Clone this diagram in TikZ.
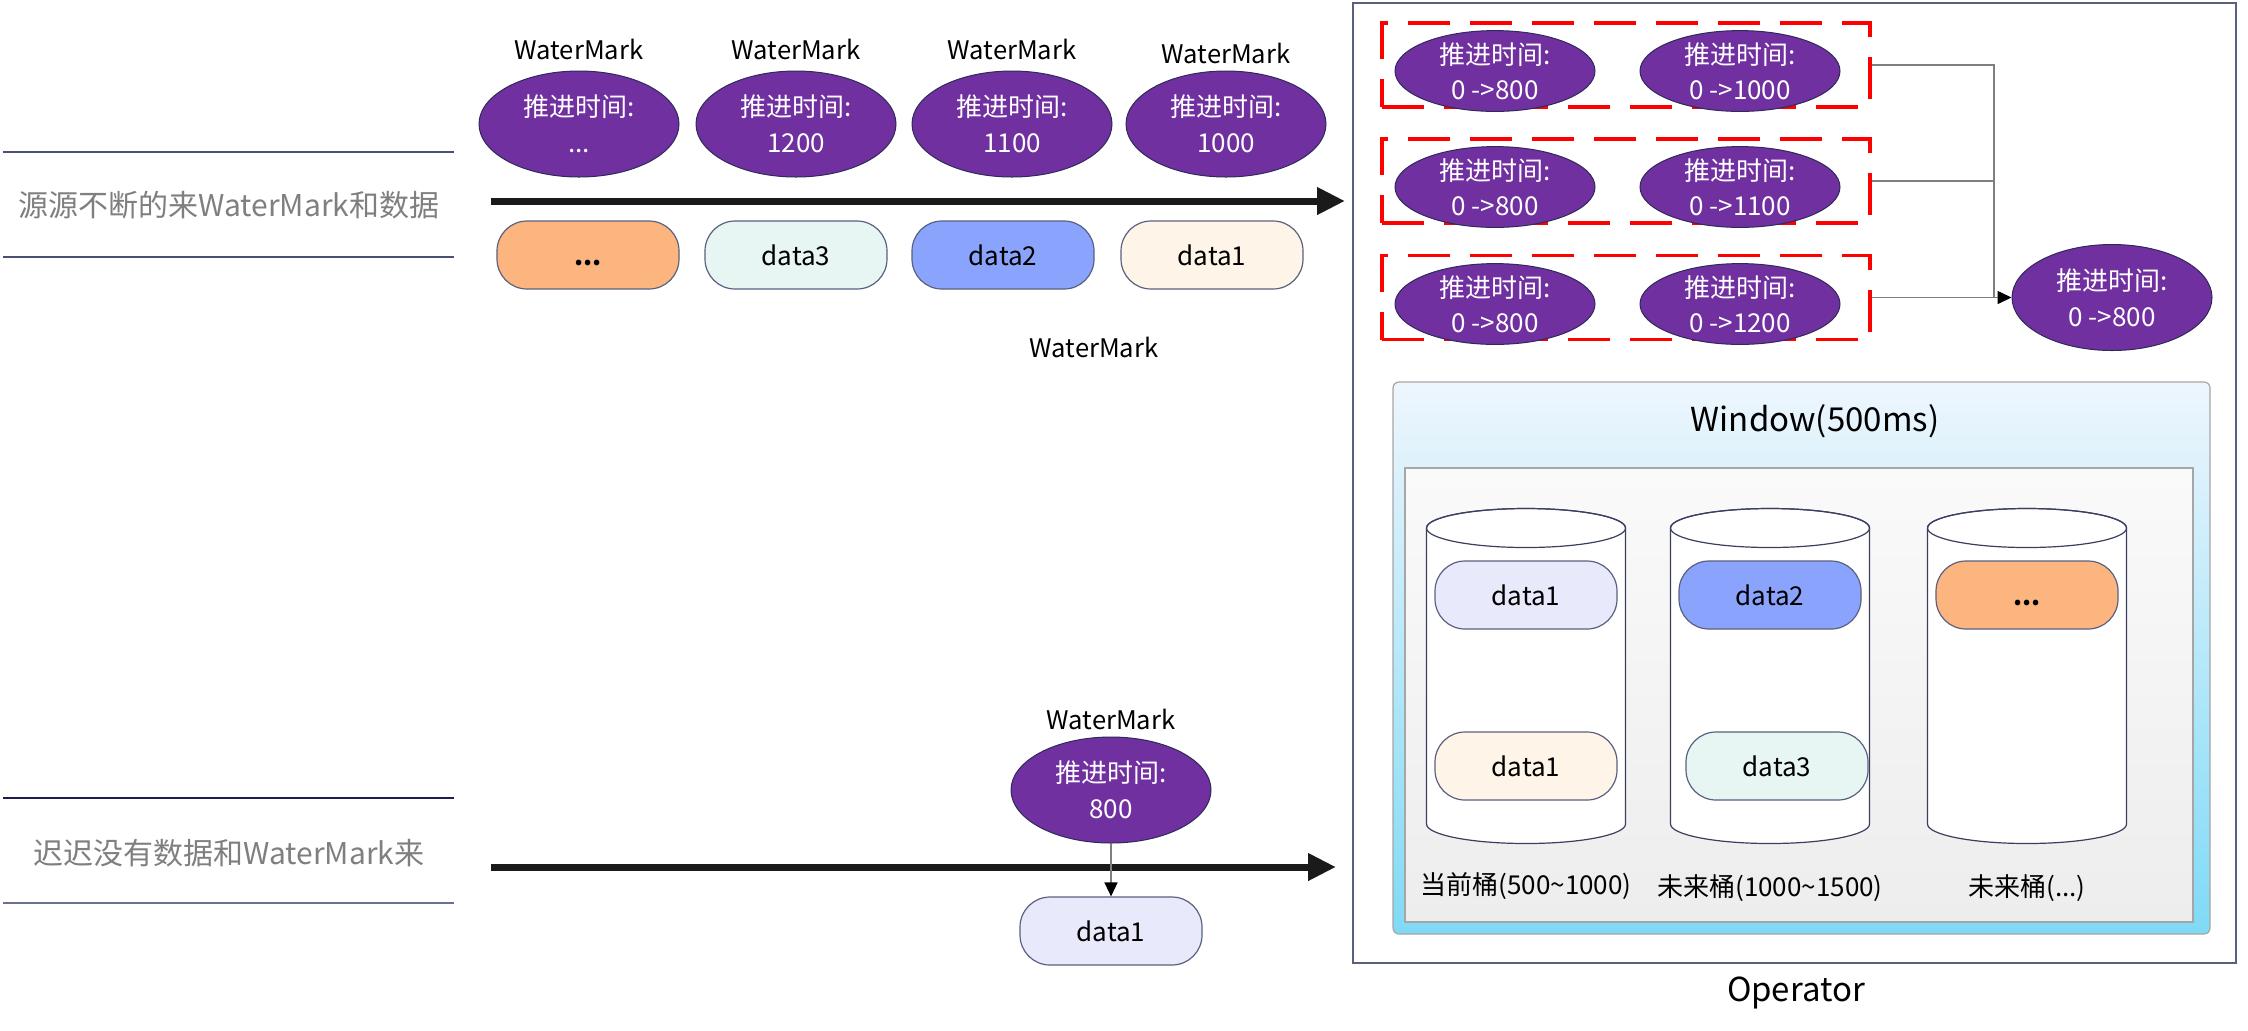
\documentclass[tikz,border=0pt]{standalone}
\usepackage{fontspec}
\setmainfont{Noto Sans CJK SC}
\usetikzlibrary{shapes.geometric,arrows.meta}
\definecolor{wmpurple}{HTML}{7030A0}
\definecolor{wmedge}{HTML}{2E2A5A}
\definecolor{pilledge}{HTML}{5A6080}
\definecolor{corange}{HTML}{FDB57F}
\definecolor{cmint}{HTML}{E7F6F2}
\definecolor{cblue}{HTML}{8AA4FD}
\definecolor{ccream}{HTML}{FEF4E7}
\definecolor{clav}{HTML}{E8EAFC}
\definecolor{txtgray}{HTML}{7F7F7F}
\definecolor{rulecol}{HTML}{4B5070}
\definecolor{rulenavy}{HTML}{1C1C50}
\definecolor{rulelight}{HTML}{6B7090}
\definecolor{arrowcol}{HTML}{1A1A1A}
\definecolor{conncol}{HTML}{7F7F7F}
\definecolor{opedge}{HTML}{5A5F80}
\definecolor{wintop}{HTML}{EEF6FD}
\definecolor{winbot}{HTML}{7FDAF6}
\definecolor{inntop}{HTML}{FAFAFA}
\definecolor{innbot}{HTML}{EDEDED}
\definecolor{innedge}{HTML}{A6A6A6}
\definecolor{cyledge}{HTML}{3A3F60}
\begin{document}
\begin{tikzpicture}[x=0.5pt,y=-0.5pt,
  wm/.style={ellipse, fill=wmpurple, draw=wmedge, line width=0.5pt, text=white,
    align=center, inner sep=0pt, minimum width=100pt, minimum height=53pt,
    font=\fontsize{13}{18}\selectfont},
  wmsmall/.style={wm, minimum height=36pt, font=\fontsize{13}{17.5}\selectfont},
  pill/.style={rectangle, rounded corners=15pt, draw=pilledge, line width=0.6pt,
    minimum width=91pt, minimum height=34pt, inner sep=0pt,
    font=\fontsize{13}{16}\selectfont},
  lbl/.style={font=\fontsize{12.8}{16}\selectfont, inner sep=0pt},
  sidelbl/.style={font=\fontsize{15}{18}\selectfont, text=txtgray, inner sep=0pt},
  rulea/.style={draw=rulecol, line width=1pt},
  mainarrow/.style={draw=arrowcol, line width=3.5pt, -{Triangle[length=14pt,width=13pt]}},
  redbox/.style={rectangle, draw=red, line width=1.7pt, dash pattern=on 21pt off 10pt,
    minimum width=244pt, minimum height=42pt, inner sep=0pt},
  conn/.style={draw=conncol, line width=0.75pt},
  conntip/.style={conn, -{Triangle[length=7pt,width=6.5pt,color=black]}},
  bucketlbl/.style={font=\fontsize{13}{16}\selectfont, inner sep=0pt},
  cylstyle/.style={draw=cyledge, line width=0.6pt, fill=white}
]
\useasboundingbox (0,0) rectangle (2248,1030);

% ---------- left labels ----------
\coordinate (r1a) at (3,152); \coordinate (r1b) at (454,152);
\coordinate (r2a) at (3,257); \coordinate (r2b) at (454,257);
\draw[rulea] (r1a) -- (r1b);
\draw[rulea] (r2a) -- (r2b);
\node[sidelbl] (s1) at (229,205) {源源不断的来WaterMark和数据};

\coordinate (r3a) at (3,798); \coordinate (r3b) at (454,798);
\coordinate (r4a) at (3,903); \coordinate (r4b) at (454,903);
\draw[draw=rulenavy, line width=1pt] (r3a) -- (r3b);
\draw[draw=rulelight, line width=1pt] (r4a) -- (r4b);
\node[sidelbl] (s2) at (229,853) {迟迟没有数据和WaterMark来};

% ---------- main arrows ----------
\coordinate (a1s) at (491,201); \coordinate (a1e) at (1345,201);
\draw[mainarrow] (a1s) -- (a1e);
\coordinate (a2s) at (491,867); \coordinate (a2e) at (1336,867);
\draw[mainarrow] (a2s) -- (a2e);

% ---------- top watermarks ----------
\node[lbl] (wl1) at (579,49) {WaterMark};
\node[lbl] (wl2) at (796,49) {WaterMark};
\node[lbl] (wl3) at (1012,49) {WaterMark};
\node[lbl] (wl4) at (1226,53) {WaterMark};
\node[wm] (w1) at (579,124) {推进时间:\\...};
\node[wm] (w2) at (796,124) {推进时间:\\1200};
\node[wm] (w3) at (1012,124) {推进时间:\\1100};
\node[wm] (w4) at (1226,124) {推进时间:\\1000};

% ---------- top data ----------
\node[pill, fill=corange] (d1) at (588,255) {\vphantom{d}\textbf{...}};
\node[pill, fill=cmint] (d2) at (796,255) {data3};
\node[pill, fill=cblue] (d3) at (1003,255) {data2};
\node[pill, fill=ccream] (d4) at (1212,255) {data1};
\node[lbl] (wl6) at (1094,347) {WaterMark};

% ---------- bottom watermark ----------
\node[lbl] (wl5) at (1111,719) {WaterMark};
\node[wm] (w5) at (1111,790) {推进时间:\\800};
\node[pill, fill=clav] (d5) at (1111,931) {data1};
\draw[conntip] (w5.south) -- (d5.north);

% ---------- operator ----------
\node[rectangle, draw=opedge, line width=0.6pt, minimum width=441.5pt, minimum height=480pt, inner sep=0pt] (op) at (1794.5,483) {};
\node[font=\fontsize{16.5}{20}\selectfont, inner sep=0pt] (optxt) at (1796,993) {Operator};

% red boxes
\node[redbox] (b1) at (1626,65) {};
\node[redbox] (b2) at (1626,181) {};
\node[redbox] (b3) at (1626,297.5) {};
\node[wmsmall] (e11) at (1495,71) {推进时间:\\0 ->800};
\node[wmsmall] (e12) at (1740,71) {推进时间:\\0 ->1000};
\node[wmsmall] (e21) at (1495,187) {推进时间:\\0 ->800};
\node[wmsmall] (e22) at (1740,187) {推进时间:\\0 ->1100};
\node[wmsmall] (e31) at (1495,304) {推进时间:\\0 ->800};
\node[wmsmall] (e32) at (1740,304) {推进时间:\\0 ->1200};
\node[wm] (fin) at (2112,297.5) {推进时间:\\0 ->800};
\coordinate (jn) at (1994,297.5);
\draw[conn] (b1.east) -| (jn);
\draw[conn] (b2.east) -- (b2.east -| jn);
\draw[conntip] (b3.east) -- (fin.west);

% window
\node[rectangle, rounded corners=3pt, draw=innedge, line width=0.6pt, top color=wintop, bottom color=winbot,
  minimum width=408.5pt, minimum height=276pt, inner sep=0pt] (win) at (1801.5,658) {};
\node[font=\fontsize{16.5}{20}\selectfont, inner sep=0pt] (wintxt) at (1815,421) {Window(500ms)};
\node[rectangle, draw=innedge, line width=0.6pt, top color=inntop, bottom color=innbot,
  minimum width=394pt, minimum height=227pt, inner sep=0pt] (inner) at (1799,695) {};

% cylinders
\foreach \cx/\nm in {1526/c1, 1770/c2, 2027/c3}{
  \path[cylstyle] (\cx-99.5,528) -- (\cx-99.5,824)
     arc[start angle=180, end angle=360, x radius=49.75pt, y radius=9.75pt]
     -- (\cx+99.5,528)
     arc[start angle=0, end angle=180, x radius=49.75pt, y radius=9.75pt] -- cycle;
  \draw[draw=cyledge, line width=0.6pt] (\cx,528) ellipse [x radius=49.75pt, y radius=9.75pt];
}
\node[pill, fill=clav] (k1) at (1526,595) {data1};
\node[pill, fill=ccream] (k2) at (1526,766) {data1};
\node[pill, fill=cblue] (k3) at (1770,595) {data2};
\node[pill, fill=cmint] (k4) at (1777,766) {data3};
\node[pill, fill=corange] (k5) at (2027,595) {\vphantom{d}\textbf{...}};
\node[bucketlbl] (t1) at (1526,886) {当前桶(500\textasciitilde1000)};
\node[bucketlbl] (t2) at (1770,888) {未来桶(1000\textasciitilde1500)};
\node[bucketlbl] (t3) at (2027,888) {未来桶(...)};
\end{tikzpicture}
\end{document}
